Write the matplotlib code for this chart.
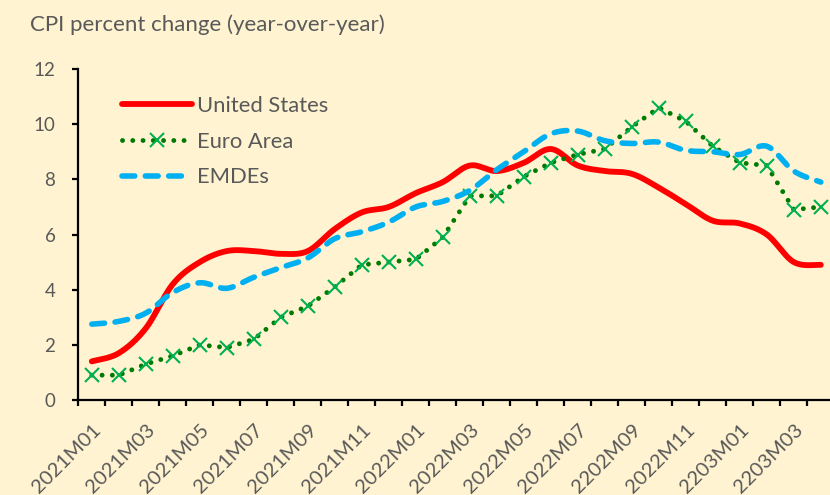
import numpy as np
import matplotlib
matplotlib.use("Agg")
import matplotlib.pyplot as plt
from matplotlib.ticker import FixedLocator, NullFormatter
import matplotlib.transforms as mtransforms

# ---------------- data ----------------
months = ["2021M01", "2021M02", "2021M03", "2021M04", "2021M05", "2021M06",
          "2021M07", "2021M08", "2021M09", "2021M10", "2021M11", "2021M12",
          "2022M01", "2022M02", "2022M03", "2022M04", "2022M05", "2022M06",
          "2022M07", "2022M08", "2202M09", "2022M10", "2022M11", "2022M12",
          "2203M01", "2203M02", "2203M03", "2023M04"]
united_states = [1.4, 1.7, 2.6, 4.2, 5.0, 5.4, 5.4, 5.3, 5.4, 6.2, 6.8, 7.0,
                 7.5, 7.9, 8.5, 8.3, 8.6, 9.1, 8.5, 8.3, 8.2, 7.7, 7.1, 6.5,
                 6.4, 6.0, 5.0, 4.9]
euro_area = [0.9, 0.9, 1.3, 1.6, 2.0, 1.9, 2.2, 3.0, 3.4, 4.1, 4.9, 5.0,
             5.1, 5.9, 7.4, 7.4, 8.1, 8.6, 8.9, 9.1, 9.9, 10.6, 10.1, 9.2,
             8.6, 8.5, 6.9, 7.0]
emdes = [2.75, 2.85, 3.15, 3.9, 4.25, 4.05, 4.45, 4.8, 5.15, 5.85, 6.1, 6.45,
         7.0, 7.2, 7.6, 8.35, 9.0, 9.65, 9.75, 9.4, 9.3, 9.35, 9.05, 9.0,
         8.9, 9.2, 8.3, 7.9]
title = "CPI percent change (year-over-year)"
yticks = [0, 2, 4, 6, 8, 10, 12]

# ---------------- style ----------------
BG = "#FFF3D1"
GREY = "#595959"
plt.rcParams["font.family"] = ["Lato", "DejaVu Sans"]


def excel_smooth(xs, ys, n=24):
    """Excel-like smoothed line (Catmull-Rom style cubic Bezier)."""
    p = np.column_stack([xs, ys]).astype(float)
    out = [p[0]]
    t = np.linspace(0, 1, n + 1)[1:, None]
    for i in range(len(p) - 1):
        p0 = p[i - 1] if i > 0 else p[i]
        p1, p2 = p[i], p[i + 1]
        p3 = p[i + 2] if i + 2 < len(p) else p[i + 1]
        c1 = p1 + (p2 - p0) / 6.0
        c2 = p2 - (p3 - p1) / 6.0
        seg = ((1 - t) ** 3) * p1 + 3 * ((1 - t) ** 2) * t * c1 \
            + 3 * (1 - t) * t ** 2 * c2 + t ** 3 * p2
        out.extend(seg)
    out = np.array(out)
    return out[:, 0], out[:, 1]


W, H = 830, 495
fig = plt.figure(figsize=(W / 100, H / 100), dpi=100, facecolor=BG)
left_px, right_px, top_px, bot_px = 78.3, 834.3, 69.0, 400.0
ax = fig.add_axes([left_px / W, 1 - bot_px / H,
                   (right_px - left_px) / W, (bot_px - top_px) / H])
ax.set_facecolor(BG)

x = np.arange(len(months))

xs, ys = excel_smooth(x, united_states)
ax.plot(xs, ys, color="#FF0000", lw=4.2, solid_capstyle="round",
        label="United States", zorder=3)

ax.plot(x, euro_area, color="#007A00", lw=3.5, linestyle=(0, (0.01, 2.1)),
        dash_capstyle="round", marker="x", markersize=10.5, markeredgewidth=1.5,
        markeredgecolor="#00B050", label="Euro Area", zorder=4)

xs, ys = excel_smooth(x, emdes)
ax.plot(xs, ys, color="#00B0F0", lw=4.0, linestyle=(0, (2.3, 1.9)),
        dash_capstyle="round", label="EMDEs", zorder=5)

# axes limits
ax.set_xlim(-0.5, len(months) - 0.5)
ax.set_ylim(0, 12)

# spines
for s in ("top", "right"):
    ax.spines[s].set_visible(False)
for s in ("left", "bottom"):
    ax.spines[s].set_linewidth(1.6)
    ax.spines[s].set_color("black")

# y ticks
ax.set_yticks(yticks)
ax.set_yticklabels([str(v) for v in yticks])
ax.tick_params(axis="y", direction="out", length=4.5, width=1.6,
               color="black", labelcolor=GREY, labelsize=13.5, pad=12)

# x ticks: labels at every other category centre, tick marks at boundaries
label_pos = x[::2]
ax.xaxis.set_major_locator(FixedLocator(label_pos))
ax.set_xticklabels([months[i] for i in label_pos])
ax.xaxis.set_minor_locator(FixedLocator(np.arange(-0.5, len(months), 1.0)))
ax.xaxis.set_minor_formatter(NullFormatter())
ax.tick_params(axis="x", which="major", length=0, labelcolor=GREY,
               labelsize=14.5, pad=15)
ax.tick_params(axis="x", which="minor", direction="out", length=4.5,
               width=1.6, color="black")
offset = mtransforms.ScaledTranslation(0.5 / 100, 0, fig.dpi_scale_trans)
for lab in ax.get_xticklabels():
    lab.set_rotation(45)
    lab.set_ha("right")
    lab.set_va("top")
    lab.set_rotation_mode("anchor")
    lab.set_transform(lab.get_transform() + offset)

# title
fig.text(30 / W, 1 - 25 / H, title, ha="left", va="center",
         fontsize=16, color=GREY)

# legend
leg = ax.legend(loc="upper left", bbox_to_anchor=(0.0575, 0.919),
                frameon=False, fontsize=15.8, handlelength=3.2,
                handletextpad=0.25, labelspacing=0.72, borderpad=0,
                borderaxespad=0, numpoints=1)
for t in leg.get_texts():
    t.set_color(GREY)

fig.savefig("out.png", dpi=100, facecolor=BG)
